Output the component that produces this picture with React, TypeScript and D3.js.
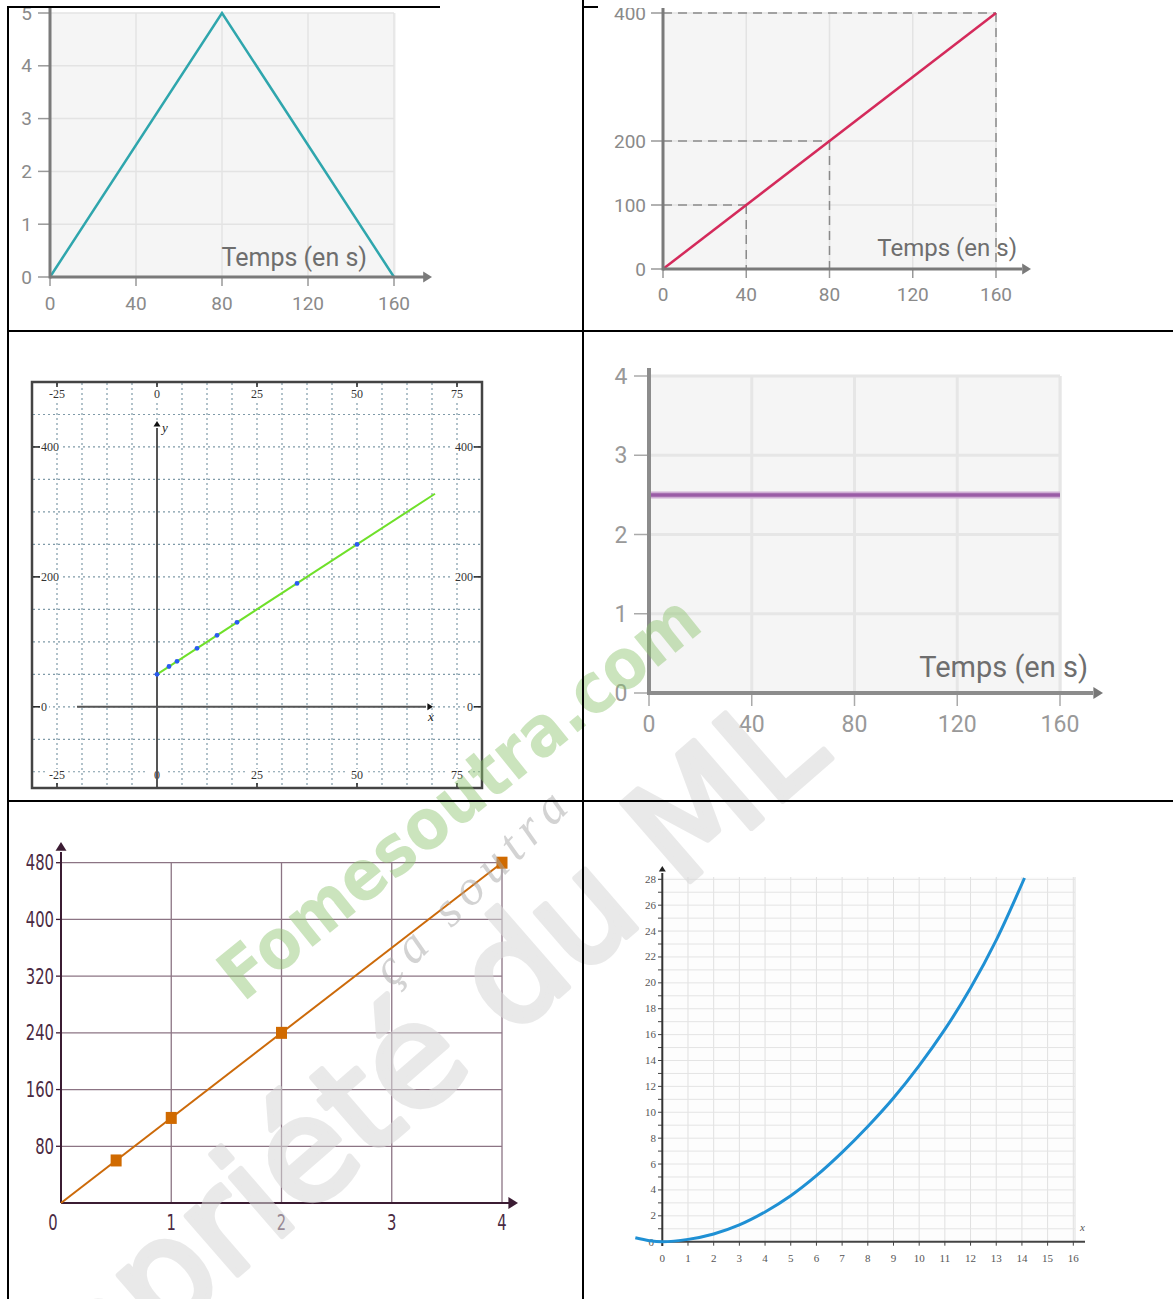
import React from 'react';
import * as d3 from 'd3';

// panel 1 : triangle
const triTimes = [0, 80, 160];
const triValues = [0, 5, 0];
const triXTicks = [0, 40, 80, 120, 160];
const triYTicks = [0, 1, 2, 3, 4, 5];

// panel 2 : straight line with guides
const distTimes = [0, 160];
const distValues = [0, 400];
const distXTicks = [0, 40, 80, 120, 160];
const distYTicks = [0, 100, 200, 400];
const distGuideTimes = [40, 80, 160];
const distGuideValues = [100, 200, 400];

// panel 3 : grid with points
const geoPointX = [0, 3, 5, 10, 15, 20, 35, 50];
const geoPointY = [50, 62, 70, 90, 110, 130, 190, 250];
const geoLineX = [0, 69.5];
const geoLineY = [50, 328];
const geoXLabels = [-25, 0, 25, 50, 75];
const geoYLabels = [0, 200, 400];

// panel 4 : constant
const flatTimes = [0, 160];
const flatValues = [2.5, 2.5];
const flatXTicks = [0, 40, 80, 120, 160];
const flatYTicks = [0, 1, 2, 3, 4];

// panel 5 : squares
const sqX = [0.5, 1, 2, 4];
const sqY = [60, 120, 240, 480];
const sqLineX = [0, 4];
const sqLineY = [0, 480];
const sqXTicks = [0, 1, 2, 3, 4];
const sqYTicks = [80, 160, 240, 320, 400, 480];

// panel 6 : curve
const curveX = [-1.05, -0.5, 0, 1, 2, 3, 4, 5, 6, 7, 8, 9, 10, 11, 12, 13, 14.1];
const curveY = [0.3, 0.08, 0, 0.18, 0.6, 1.3, 2.3, 3.55, 5.1, 6.9, 8.9, 11.1, 13.6, 16.4, 19.6, 23.3, 28.1];
const curveXTicks = d3.range(0, 17);
const curveYTicks = d3.range(2, 29, 2);

const roboto = "Roboto, 'Open Sans', sans-serif";
const serif = "'Liberation Serif', 'DejaVu Serif', serif";
const narrow = "'Liberation Sans Narrow', 'DejaVu Sans Condensed', 'DejaVu Sans', sans-serif";

const ArrowRight = ({ x, y, s, fill }: { x: number; y: number; s: number; fill: string }) => (
  <polygon points={`${x},${y} ${x - s * 1.6},${y - s} ${x - s * 1.6},${y + s}`} fill={fill} />
);
const ArrowUp = ({ x, y, s, fill }: { x: number; y: number; s: number; fill: string }) => (
  <polygon points={`${x},${y} ${x - s},${y + s * 1.6} ${x + s},${y + s * 1.6}`} fill={fill} />
);

const TriangleChart = () => {
  const x = d3.scaleLinear().domain([0, 160]).range([50, 394]);
  const y = d3.scaleLinear().domain([0, 5]).range([277, 13]);
  const line = d3.line<number>().x((_, i) => x(triTimes[i])).y((d) => y(d));
  return (
    <g clipPath="url(#clipTop)">
      <rect x={x(0)} y={y(5)} width={x(160) - x(0) + 2} height={y(0) - y(5)} fill="#f5f5f5" />
      {triXTicks.slice(1).map((t) => (
        <line key={t} x1={x(t)} x2={x(t)} y1={y(5)} y2={y(0)} stroke="#e3e3e3" strokeWidth={1.5} />
      ))}
      {triYTicks.slice(1).map((t) => (
        <line key={t} x1={x(0)} x2={x(160)} y1={y(t)} y2={y(t)} stroke="#e3e3e3" strokeWidth={1.5} />
      ))}
      <text x={367} y={266} textAnchor="end" fontFamily={roboto} fontSize={25} fill="#6e6e6e">Temps (en s)</text>
      <path d={line(triValues) ?? ''} stroke="#2fa6ad" strokeWidth={2.5} fill="none" />
      {triYTicks.map((t) => (
        <g key={t}>
          <line x1={38} x2={x(0)} y1={y(t)} y2={y(t)} stroke="#999" strokeWidth={1.5} />
          <text x={32} y={y(t) + 6.5} textAnchor="end" fontFamily={roboto} fontSize={19} fill="#8a8a8a">{t}</text>
        </g>
      ))}
      {triXTicks.map((t) => (
        <g key={t}>
          <line x1={x(t)} x2={x(t)} y1={y(0)} y2={y(0) + 9} stroke="#999" strokeWidth={1.5} />
          <text x={x(t)} y={310} textAnchor="middle" fontFamily={roboto} fontSize={19} fill="#8a8a8a">{t}</text>
        </g>
      ))}
      <line x1={x(0)} x2={x(0)} y1={0} y2={y(0) + 1.5} stroke="#7a7a7a" strokeWidth={3} />
      <line x1={x(0)} x2={424} y1={y(0)} y2={y(0)} stroke="#7a7a7a" strokeWidth={3} />
      <ArrowRight x={432} y={y(0)} s={5.5} fill="#7a7a7a" />
    </g>
  );
};

const DistanceChart = () => {
  const x = d3.scaleLinear().domain([0, 160]).range([663, 996]);
  const y = d3.scaleLinear().domain([0, 400]).range([269, 13]);
  const line = d3.line<number>().x((_, i) => x(distTimes[i])).y((d) => y(d));
  return (
    <g clipPath="url(#clipTop)">
      <rect x={x(0)} y={y(400)} width={x(160) - x(0)} height={y(0) - y(400)} fill="#f5f5f5" />
      {distXTicks.slice(1).map((t) => (
        <line key={t} x1={x(t)} x2={x(t)} y1={y(400)} y2={y(0)} stroke="#e3e3e3" strokeWidth={1.5} />
      ))}
      {distYTicks.slice(1).map((t) => (
        <line key={t} x1={x(0)} x2={x(160)} y1={y(t)} y2={y(t)} stroke="#e3e3e3" strokeWidth={1.5} />
      ))}
      {distGuideTimes.map((t, i) => (
        <g key={t}>
          <line x1={x(0)} x2={x(t)} y1={y(distGuideValues[i])} y2={y(distGuideValues[i])} stroke="#8a8a8a" strokeWidth={1.5} strokeDasharray="9,6" />
          <line x1={x(t)} x2={x(t)} y1={y(distGuideValues[i])} y2={y(0)} stroke="#8a8a8a" strokeWidth={1.5} strokeDasharray="9,6" />
        </g>
      ))}
      <text x={1017} y={256} textAnchor="end" fontFamily={roboto} fontSize={24} fill="#6e6e6e">Temps (en s)</text>
      <path d={line(distValues) ?? ''} stroke="#d42a5b" strokeWidth={2.5} fill="none" />
      {distYTicks.map((t) => (
        <g key={t}>
          <line x1={651} x2={x(0)} y1={y(t)} y2={y(t)} stroke="#999" strokeWidth={1.5} />
          <text x={646} y={y(t) + 6.5} textAnchor="end" fontFamily={roboto} fontSize={19} fill="#8a8a8a">{t}</text>
        </g>
      ))}
      {distXTicks.map((t) => (
        <g key={t}>
          <line x1={x(t)} x2={x(t)} y1={y(0)} y2={y(0) + 9} stroke="#999" strokeWidth={1.5} />
          <text x={x(t)} y={301} textAnchor="middle" fontFamily={roboto} fontSize={19} fill="#8a8a8a">{t}</text>
        </g>
      ))}
      <line x1={x(0)} x2={x(0)} y1={0} y2={y(0) + 1.5} stroke="#7a7a7a" strokeWidth={3} />
      <line x1={x(0)} x2={1022} y1={y(0)} y2={y(0)} stroke="#7a7a7a" strokeWidth={3} />
      <ArrowRight x={1031} y={y(0)} s={5.5} fill="#7a7a7a" />
    </g>
  );
};

const GeoChart = () => {
  const x = d3.scaleLinear().domain([-31.25, 81.25]).range([32, 482]);
  const y = d3.scaleLinear().domain([-125, 500]).range([788, 382]);
  const vGrid = d3.range(-25, 76, 6.25);
  const hGrid = d3.range(-100, 451, 50);
  const line = d3.line<number>().x((_, i) => x(geoLineX[i])).y((d) => y(d));
  return (
    <g>
      <rect x={32} y={382} width={450} height={406} fill="#fff" />
      {vGrid.map((t) => (
        <line key={t} x1={x(t)} x2={x(t)} y1={383} y2={787} stroke="#7f9aa8" strokeWidth={1.2} strokeDasharray="2,3" />
      ))}
      {hGrid.map((t) => (
        <line key={t} x1={33} x2={481} y1={y(t)} y2={y(t)} stroke="#7f9aa8" strokeWidth={1.2} strokeDasharray="2,3" />
      ))}
      {geoXLabels.map((t) => (
        <g key={t}>
          <line x1={x(t)} x2={x(t)} y1={382} y2={387} stroke="#222" strokeWidth={1.5} />
          <line x1={x(t)} x2={x(t)} y1={783} y2={788} stroke="#222" strokeWidth={1.5} />
          <rect x={x(t) - 9} y={388} width={18} height={12} fill="#fff" />
          <text x={x(t)} y={398} textAnchor="middle" fontFamily={serif} fontSize={12} fill="#333">{t}</text>
          <rect x={x(t) - 9} y={769} width={18} height={12} fill="#fff" />
          <text x={x(t)} y={779} textAnchor="middle" fontFamily={serif} fontSize={12} fill="#333">{t}</text>
        </g>
      ))}
      {geoYLabels.map((t) => (
        <g key={t}>
          <line x1={32} x2={40} y1={y(t)} y2={y(t)} stroke="#222" strokeWidth={1.5} />
          <rect x={41} y={y(t) - 6} width={t === 0 ? 8 : 22} height={12} fill="#fff" />
          <text x={41} y={y(t) + 4} fontFamily={serif} fontSize={12} fill="#333">{t}</text>
          <line x1={474} x2={482} y1={y(t)} y2={y(t)} stroke="#222" strokeWidth={1.5} />
          <rect x={t === 0 ? 465 : 451} y={y(t) - 6} width={t === 0 ? 8 : 22} height={12} fill="#fff" />
          <text x={473} y={y(t) + 4} textAnchor="end" fontFamily={serif} fontSize={12} fill="#333">{t}</text>
        </g>
      ))}
      <line x1={x(0)} x2={x(0)} y1={428} y2={787} stroke="#555" strokeWidth={2} />
      <ArrowUp x={x(0)} y={421} s={3.5} fill="#111" />
      <text x={x(0) + 5} y={432} fontFamily={serif} fontStyle="italic" fontSize={13} fill="#222">y</text>
      <line x1={x(-20)} x2={426} y1={y(0)} y2={y(0)} stroke="#555" strokeWidth={2} />
      <ArrowRight x={433} y={y(0)} s={3.5} fill="#111" />
      <text x={428} y={721} fontFamily={serif} fontStyle="italic" fontSize={13} fill="#222">x</text>
      <path d={line(geoLineY) ?? ''} stroke="#6fe02a" strokeWidth={2} fill="none" />
      {geoPointX.map((px, i) => (
        <circle key={i} cx={x(px)} cy={y(geoPointY[i])} r={2.4} fill="#2a5cf0" />
      ))}
      <rect x={32} y={382} width={450} height={406} fill="none" stroke="#444" strokeWidth={2.5} />
    </g>
  );
};

const FlatChart = () => {
  const x = d3.scaleLinear().domain([0, 160]).range([649, 1060]);
  const y = d3.scaleLinear().domain([0, 4]).range([693, 376]);
  const line = d3.line<number>().x((_, i) => x(flatTimes[i])).y((d) => y(d));
  return (
    <g clipPath="url(#clipFlat)">
      <rect x={x(0)} y={y(4)} width={x(160) - x(0) + 2} height={y(0) - y(4)} fill="#f5f5f5" />
      {flatXTicks.slice(1).map((t) => (
        <line key={t} x1={x(t)} x2={x(t)} y1={y(4)} y2={y(0)} stroke="#e6e6e6" strokeWidth={3} />
      ))}
      {flatYTicks.slice(1).map((t) => (
        <line key={t} x1={x(0)} x2={x(160)} y1={y(t)} y2={y(t)} stroke="#e6e6e6" strokeWidth={3} />
      ))}
      <path d={line(flatValues) ?? ''} stroke="#cfaed4" strokeWidth={7} fill="none" />
      <path d={line(flatValues) ?? ''} stroke="#9a5ca6" strokeWidth={3.5} fill="none" />
      <text x={1088} y={677} textAnchor="end" fontFamily={roboto} fontSize={29} fill="#6e6e6e">Temps (en s)</text>
      {flatYTicks.map((t) => (
        <g key={t}>
          <line x1={634} x2={x(0)} y1={y(t)} y2={y(t)} stroke="#aaa" strokeWidth={1.5} />
          <text x={621} y={y(t) + 8} textAnchor="middle" fontFamily={roboto} fontSize={23} fill="#999">{t}</text>
        </g>
      ))}
      {flatXTicks.map((t) => (
        <g key={t}>
          <line x1={x(t)} x2={x(t)} y1={y(0)} y2={y(0) + 13} stroke="#aaa" strokeWidth={1.5} />
          <text x={x(t)} y={732} textAnchor="middle" fontFamily={roboto} fontSize={23} fill="#999">{t}</text>
        </g>
      ))}
      <line x1={x(0)} x2={x(0)} y1={360} y2={y(0) + 2} stroke="#8c8c8c" strokeWidth={4} />
      <line x1={x(0)} x2={1093} y1={y(0)} y2={y(0)} stroke="#8c8c8c" strokeWidth={4} />
      <ArrowRight x={1103} y={y(0)} s={6} fill="#777" />
    </g>
  );
};

const SquareChart = () => {
  const x = d3.scaleLinear().domain([0, 4]).range([61, 502]);
  const y = d3.scaleLinear().domain([0, 480]).range([1203, 862.7]);
  const line = d3.line<number>().x((_, i) => x(sqLineX[i])).y((d) => y(d));
  const grid = '#8c7484';
  const axis = '#3b1c33';
  return (
    <g>
      {sqYTicks.map((t) => (
        <g key={t}>
          <line x1={x(0)} x2={x(4)} y1={y(t)} y2={y(t)} stroke={grid} strokeWidth={1.3} />
          <line x1={56} x2={x(0)} y1={y(t)} y2={y(t)} stroke={axis} strokeWidth={1.3} />
          <text
            x={54}
            y={y(t) + 7.5}
            textAnchor="end"
            fontFamily={narrow}
            fontSize={21}
            fill="#4a2a42"
            textLength={String(t).length * 9.4}
            lengthAdjust="spacingAndGlyphs"
          >
            {t}
          </text>
        </g>
      ))}
      {sqXTicks.slice(1).map((t) => (
        <line key={t} x1={x(t)} x2={x(t)} y1={y(480)} y2={y(0)} stroke={grid} strokeWidth={1.3} />
      ))}
      {sqXTicks.map((t) => (
        <text
          key={t}
          x={t === 0 ? 53 : x(t)}
          y={1230}
          textAnchor="middle"
          fontFamily={narrow}
          fontSize={21}
          fill="#4a2a42"
          textLength={9.4}
          lengthAdjust="spacingAndGlyphs"
        >
          {t}
        </text>
      ))}
      <line x1={x(0)} x2={x(0)} y1={y(0)} y2={852} stroke={axis} strokeWidth={2} />
      <ArrowUp x={x(0)} y={842} s={5.5} fill={axis} />
      <line x1={x(0)} x2={509} y1={y(0)} y2={y(0)} stroke={axis} strokeWidth={2} />
      <ArrowRight x={518} y={y(0)} s={6} fill={axis} />
      <path d={line(sqLineY) ?? ''} stroke="#cc6a0a" strokeWidth={2} fill="none" />
      {sqX.map((px, i) => (
        <rect key={i} x={x(px) - 5.5} y={y(sqY[i]) - 6} width={11} height={12} fill="#d06a00" />
      ))}
    </g>
  );
};

const CurveChart = () => {
  const x = d3.scaleLinear().domain([0, 16]).range([662.3, 1073.3]);
  const y = d3.scaleLinear().domain([0, 28]).range([1241.7, 879.3]);
  const line = d3
    .line<number>()
    .x((_, i) => x(curveX[i]))
    .y((d) => y(d))
    .curve(d3.curveCatmullRom);
  const vGrid = d3.range(1, 17);
  const hGrid = d3.range(1, 29);
  return (
    <g>
      <rect x={x(0)} y={877} width={1075 - x(0)} height={y(0) - 877} fill="#fdfdfd" />
      {vGrid.map((t) => (
        <line key={t} x1={x(t)} x2={x(t)} y1={877} y2={y(0)} stroke="#e0e0e0" strokeWidth={1} />
      ))}
      <line x1={1075} x2={1075} y1={877} y2={y(0)} stroke="#e0e0e0" strokeWidth={1} />
      {hGrid.map((t) => (
        <line key={t} x1={x(0)} x2={1075} y1={y(t)} y2={y(t)} stroke="#e4e4e4" strokeWidth={1} />
      ))}
      {hGrid.map((t) => (
        <line key={t} x1={658} x2={x(0)} y1={y(t)} y2={y(t)} stroke="#444" strokeWidth={1} />
      ))}
      {curveYTicks.map((t) => (
        <text key={t} x={656} y={y(t) + 3.5} textAnchor="end" fontFamily={serif} fontSize={11} fill="#555">{t}</text>
      ))}
      <text x={654} y={y(0) + 4} textAnchor="end" fontFamily={serif} fontSize={11} fill="#555">0</text>
      {curveXTicks.map((t) => (
        <g key={t}>
          <line x1={x(t)} x2={x(t)} y1={y(0)} y2={y(0) + 4} stroke="#444" strokeWidth={1} />
          <text x={x(t)} y={1262} textAnchor="middle" fontFamily={serif} fontSize={11} fill="#555">{t}</text>
        </g>
      ))}
      <line x1={x(0)} x2={x(0)} y1={1246} y2={873} stroke="#333" strokeWidth={2} />
      <ArrowUp x={x(0)} y={866} s={3.5} fill="#222" />
      <line x1={657} x2={1085} y1={y(0)} y2={y(0)} stroke="#444" strokeWidth={2} />
      <text x={1080} y={1231} fontFamily={serif} fontStyle="italic" fontSize={11} fill="#555">x</text>
      <path d={line(curveY) ?? ''} stroke="#1f90d4" strokeWidth={3} fill="none" />
    </g>
  );
};

const Watermark = () => (
  <g pointerEvents="none">
    <text
      transform="translate(-10,1490) rotate(-41)"
      fontFamily="'DejaVu Sans', sans-serif"
      fontSize={142}
      fill="#d8d8d8"
      stroke="#d8d8d8"
      strokeWidth={6}
      strokeLinejoin="round"
      opacity={0.55}
    >
      Propriété du ML
    </text>
    <text
      transform="translate(243,1003) rotate(-39)"
      fontFamily="'DejaVu Sans', sans-serif"
      fontWeight="bold"
      fontSize={70}
      fill="#8dc46e"
      opacity={0.45}
      textLength={595}
      lengthAdjust="spacingAndGlyphs"
    >
      Fomesoutra.com
    </text>
    <text
      transform="translate(392,988) rotate(-45)"
      fontFamily={serif}
      fontStyle="italic"
      fontSize={50}
      fill="#a8a8a8"
      opacity={0.5}
      textLength={252}
      lengthAdjust="spacing"
    >
      ça soutra
    </text>
  </g>
);

const App: React.FC = () => {
  return (
    <svg
      width={1173}
      height={1299}
      viewBox="0 0 1173 1299"
      style={{ position: 'absolute', left: 0, top: 0, background: '#fff' }}
    >
      <defs>
        <clipPath id="clipTop">
          <rect x={9} y={8} width={1164} height={322} />
        </clipPath>
        <clipPath id="clipFlat">
          <rect x={584} y={368} width={589} height={432} />
        </clipPath>
      </defs>
      <TriangleChart />
      <DistanceChart />
      <GeoChart />
      <FlatChart />
      <SquareChart />
      <CurveChart />
      <Watermark />
      {/* table borders */}
      <g stroke="#000" strokeWidth={2}>
        <line x1={8} x2={8} y1={6} y2={1299} />
        <line x1={583} x2={583} y1={0} y2={1299} />
        <line x1={7} x2={440} y1={7} y2={7} />
        <line x1={583} x2={598} y1={7} y2={7} />
        <line x1={7} x2={1173} y1={331} y2={331} />
        <line x1={7} x2={1173} y1={801} y2={801} />
      </g>
    </svg>
  );
};

export default App;
